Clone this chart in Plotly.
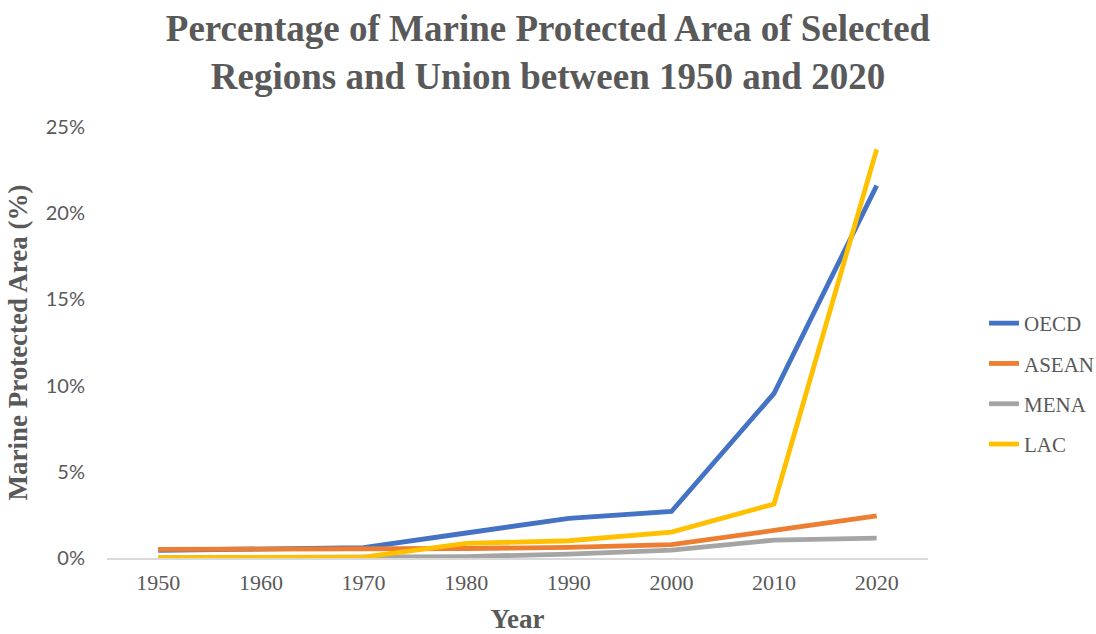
import plotly.graph_objects as go

# Marine protected area share (% of territorial waters), by region/union
years = ["1950", "1960", "1970", "1980", "1990", "2000", "2010", "2020"]
oecd = [0.45, 0.5, 0.6, 1.45, 2.3, 2.7, 9.55, 21.6]
asean = [0.5, 0.5, 0.5, 0.55, 0.62, 0.78, 1.6, 2.45]
mena = [0.02, 0.02, 0.05, 0.08, 0.23, 0.46, 1.04, 1.15]
lac = [0.02, 0.02, 0.05, 0.85, 1.0, 1.5, 3.13, 23.7]

y_ticks = [0, 5, 10, 15, 20, 25]
y_tick_text = ["0%", "5%", "10%", "15%", "20%", "25%"]

series = [
    ("OECD", oecd, "#4472C4"),
    ("ASEAN", asean, "#ED7D31"),
    ("MENA", mena, "#A5A5A5"),
    ("LAC", lac, "#FFC000"),
]

TEXT = "#595959"
SERIF = "Liberation Serif, Times New Roman, serif"
SANS = "Lato, Open Sans, sans-serif"

fig = go.Figure()
for name, vals, color in series:
    fig.add_trace(go.Scatter(
        x=years, y=vals, name=name, mode="lines",
        legendgroup=name,
        line=dict(color=color, width=4.8),
    ))

fig.update_layout(
    width=1096, height=634,
    paper_bgcolor="white", plot_bgcolor="white",
    margin=dict(l=107, r=168, t=127, b=76),
    title=dict(
        text="Percentage of Marine Protected Area of Selected<br>Regions and Union between 1950 and 2020",
        x=0.5, xanchor="center", xref="container",
        y=1 - 41 / 634, yanchor="middle", yref="container",
        font=dict(family=SERIF, size=37, color=TEXT, weight="bold"),
    ),
    legend=dict(
        x=984 / 1096, xref="container", xanchor="left",
        y=1 - 384 / 634, yref="container", yanchor="middle",
        font=dict(family=SERIF, size=21, color=TEXT),
        tracegroupgap=10,
        bgcolor="rgba(0,0,0,0)",
    ),
    showlegend=True,
)

fig.update_xaxes(
    type="category", range=[-0.5, 7.5], automargin=False,
    showgrid=False, zeroline=False,
    showline=True, linecolor="#D9D9D9", linewidth=1.5,
    ticks="", ticklabelstandoff=4,
    tickfont=dict(family=SERIF, size=22, color=TEXT),
    title=dict(text="Year", font=dict(family=SERIF, size=27, color=TEXT, weight="bold"), standoff=30),
)
fig.update_yaxes(
    range=[0, 25], tickvals=y_ticks, ticktext=y_tick_text, automargin=False,
    showgrid=False, zeroline=False, showline=False,
    ticks="", ticklabelstandoff=21,
    tickfont=dict(family=SANS, size=20, color=TEXT),
    title=dict(text="Marine Protected Area (%)", font=dict(family=SERIF, size=27, color=TEXT, weight="bold"), standoff=10),
)

fig.write_html("out.html")
